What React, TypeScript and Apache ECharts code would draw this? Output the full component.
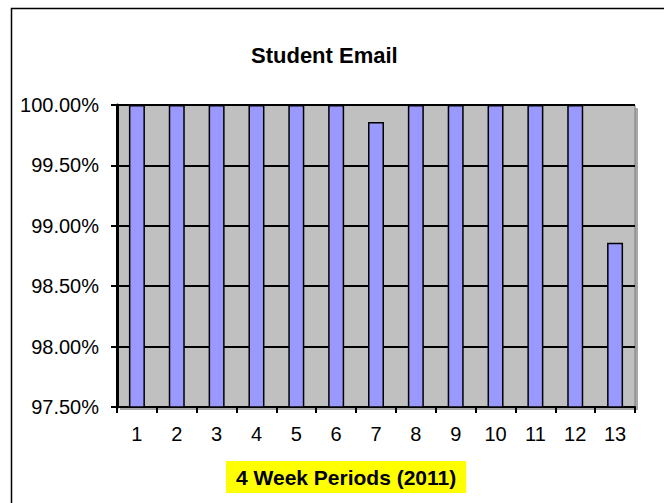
import React, { useEffect, useRef } from "react";
import * as echarts from "echarts";

const categories = ["1", "2", "3", "4", "5", "6", "7", "8", "9", "10", "11", "12", "13"];
const values = [100, 100, 100, 100, 100, 100, 99.86, 100, 100, 100, 100, 100, 98.86];
const chartTitle = "Student Email";
const xAxisTitle = "4 Week Periods (2011)";
const yMin = 97.5;
const yMax = 100;
const yStep = 0.5;

const FONT = "'Liberation Sans', Arial, sans-serif";

export default function App() {
  const ref = useRef<HTMLDivElement>(null);
  useEffect(() => {
    if (!ref.current) return;
    const chart = echarts.init(ref.current, undefined, { renderer: "svg" });
    chart.setOption({
      animation: false,
      backgroundColor: "#FFFFFF",
      title: [
        {
          text: chartTitle,
          left: 251,
          top: 44,
          padding: 0,
          textStyle: { fontFamily: FONT, fontSize: 22, fontWeight: "bold", color: "#000" },
        },
        {
          text: xAxisTitle,
          left: 226,
          top: 461,
          padding: [5, 10, 5, 10],
          backgroundColor: "#FFFF00",
          textStyle: { fontFamily: FONT, fontSize: 21, fontWeight: "bold", color: "#000", lineHeight: 22 },
        },
      ],
      graphic: [
        {
          type: "rect",
          shape: { x: 11.5, y: 8.5, width: 800, height: 800 },
          style: { fill: "none", stroke: "#000", lineWidth: 1.5 },
          z: 100,
        },
        {
          type: "rect",
          shape: { x: 120, y: 108, width: 518, height: 302 },
          style: { fill: "#A8A8A8" },
          z: -10,
        },
      ],
      grid: {
        left: 117,
        top: 105,
        right: 29,
        bottom: 96,
        show: true,
        backgroundColor: "#C0C0C0",
        borderColor: "#808080",
        borderWidth: 1,
        containLabel: false,
      },
      xAxis: {
        type: "category",
        data: categories,
        axisLine: { show: true, lineStyle: { color: "#000", width: 2 } },
        axisTick: { show: true, alignWithLabel: false, length: 6, lineStyle: { color: "#000", width: 2 } },
        axisLabel: { fontFamily: FONT, fontSize: 20, color: "#000", margin: 17 },
        splitLine: { show: false },
      },
      yAxis: {
        type: "value",
        min: yMin,
        max: yMax,
        interval: yStep,
        axisLine: { show: true, lineStyle: { color: "#000", width: 3 } },
        axisTick: { show: true, length: 6, lineStyle: { color: "#000", width: 2 } },
        axisLabel: {
          fontFamily: FONT,
          fontSize: 20,
          color: "#000",
          margin: 18,
          formatter: (v: number) => v.toFixed(2) + "%",
        },
        splitLine: { show: true, lineStyle: { color: "#000", width: 2 } },
      },
      series: [
        {
          type: "bar",
          data: values,
          barWidth: 16,
          itemStyle: { color: "#9999FF", borderColor: "#000", borderWidth: 1.5 },
        },
      ],
    });
    return () => chart.dispose();
  }, []);
  return (
    <div
      ref={ref}
      style={{ position: "absolute", left: 0, top: 0, width: 664, height: 503 }}
    />
  );
}
